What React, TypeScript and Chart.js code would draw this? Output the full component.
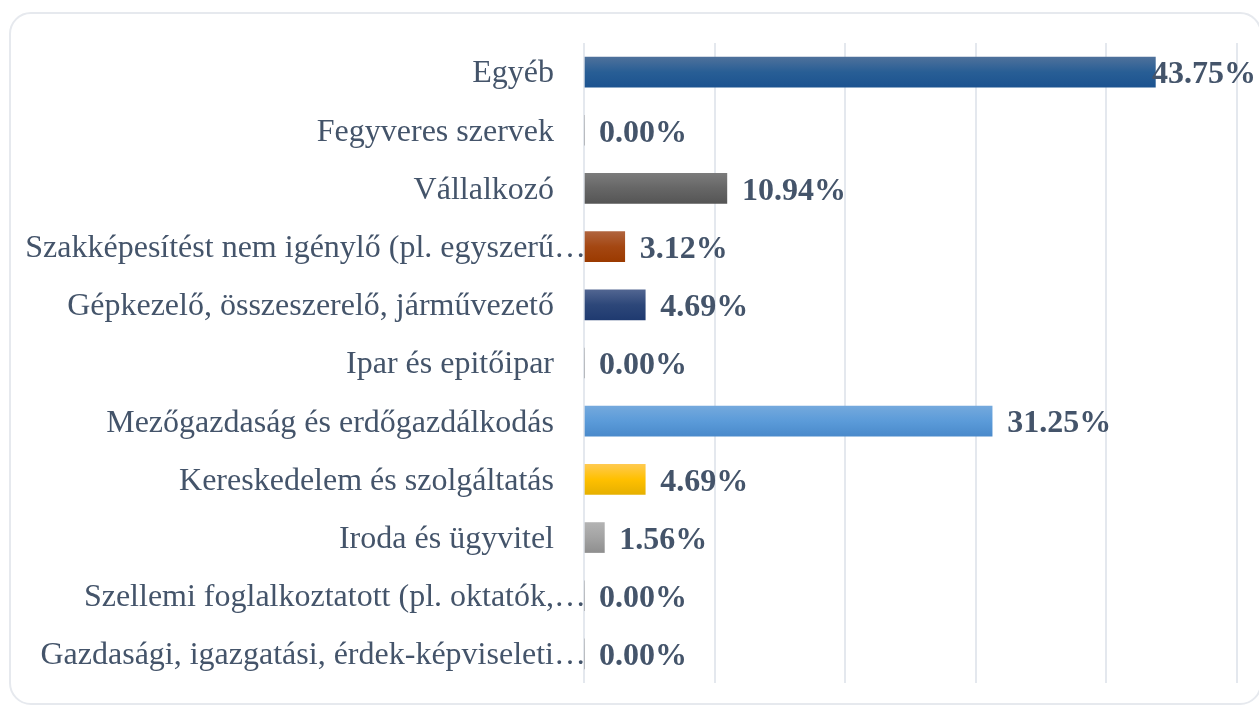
import React, { useEffect, useRef } from "react";
import { Chart, registerables } from "chart.js";

Chart.register(...registerables);

const categories: string[] = [
  "Egyéb",
  "Fegyveres szervek",
  "Vállalkozó",
  "Szakképesítést nem igénylő (pl. egyszerű fizikai munka)",
  "Gépkezelő, összeszerelő, járművezető",
  "Ipar és epitőipar",
  "Mezőgazdaság és erdőgazdálkodás",
  "Kereskedelem és szolgáltatás",
  "Iroda és ügyvitel",
  "Szellemi foglalkoztatott (pl. oktatók, orvosok, mérnökök)",
  "Gazdasági, igazgatási, érdek-képviseleti vezető",
];

const shares: number[] = [43.75, 0, 10.94, 3.12, 4.69, 0, 31.25, 4.69, 1.56, 0, 0];

const xMin = 0;
const xMax = 50;
const xStep = 10;

const topColors: string[] = ["#4e719b", "#7f7f7f", "#7b7b7b", "#b0643e", "#516591", "#7f7f7f", "#74a9dd", "#ffca4f", "#b3b3b3", "#7f7f7f", "#7f7f7f"];
const midColors: string[] = ["#285e95", "#666666", "#666666", "#a44712", "#2d4779", "#666666", "#5b9bd9", "#ffc000", "#a3a3a3", "#666666", "#666666"];
const bottomColors: string[] = ["#1c5390", "#555555", "#555555", "#9b3a00", "#1f3a70", "#555555", "#4a8acb", "#e6b000", "#8f8f8f", "#555555", "#555555"];

const SERIF = "'Liberation Serif', 'Times New Roman', serif";
const TEXT_COLOR = "#44546a";
const GRID_COLOR = "#e4e8ee";

function shorten(label: string, max = 40): string {
  if (label.length <= max) return label + "    ";
  let cut = label.slice(0, max);
  if (label[max] !== " ") {
    const sp = cut.lastIndexOf(" ");
    if (sp > 0) cut = cut.slice(0, sp);
  }
  return cut.trimEnd() + "\u2026";
}

const valueLabels = {
  id: "valueLabels",
  afterDatasetsDraw(chart: any) {
    const { ctx } = chart;
    const meta = chart.getDatasetMeta(0);
    ctx.save();
    ctx.font = `bold 32px ${SERIF}`;
    ctx.fillStyle = TEXT_COLOR;
    ctx.textBaseline = "middle";
    ctx.textAlign = "left";
    meta.data.forEach((bar: any, i: number) => {
      const text = shares[i].toFixed(2) + "%";
      const w = ctx.measureText(text).width;
      let x = bar.x + 15;
      const limit = chart.width - 3;
      if (x + w > limit) x = limit - w;
      ctx.fillText(text, x, bar.y + 3);
    });
    ctx.restore();
  },
};

export default function App() {
  const canvasRef = useRef<HTMLCanvasElement | null>(null);

  useEffect(() => {
    if (!canvasRef.current) return;
    const chart = new Chart(canvasRef.current, {
      type: "bar",
      data: {
        labels: categories,
        datasets: [
          {
            data: shares,
            barThickness: 30,
            backgroundColor: (c: any) => {
              const ch = c.chart;
              const i = c.dataIndex;
              const ys = ch.scales && ch.scales.y;
              if (!ys || !ch.chartArea || i === undefined) return midColors[i ?? 0];
              const y = ys.getPixelForValue(i);
              const g = ch.ctx.createLinearGradient(0, y - 15, 0, y + 15);
              g.addColorStop(0, topColors[i]);
              g.addColorStop(0.5, midColors[i]);
              g.addColorStop(1, bottomColors[i]);
              return g;
            },
          },
        ],
      },
      options: {
        indexAxis: "y",
        animation: false,
        responsive: false,
        maintainAspectRatio: false,
        layout: { padding: { left: 0, right: 22, top: 43, bottom: 22 } },
        plugins: {
          legend: { display: false },
          tooltip: { enabled: false },
        },
        scales: {
          x: {
            min: xMin,
            max: xMax,
            ticks: { display: false, stepSize: xStep },
            grid: { color: GRID_COLOR, lineWidth: 2, drawTicks: false },
            border: { display: false },
            afterFit: (s: any) => {
              s.height = 0;
            },
          },
          y: {
            grid: { display: false, drawTicks: false },
            border: { display: false },
            ticks: {
              padding: -2,
              labelOffset: 2,
              color: TEXT_COLOR,
              font: { family: SERIF, size: 32 },
              callback: (_v: any, idx: number) => shorten(categories[idx]),
            },
            afterFit: (s: any) => {
              s.width = 584;
            },
          },
        },
      },
      plugins: [valueLabels],
    });
    return () => chart.destroy();
  }, []);

  return (
    <>
      <div
        style={{
          position: "fixed",
          left: 9,
          top: 12,
          width: 1253,
          height: 693,
          boxSizing: "border-box",
          border: "2px solid #e6e9ee",
          borderRadius: 22,
          background: "#ffffff",
        }}
      />
      <canvas
        ref={canvasRef}
        width={1259}
        height={705}
        style={{ position: "fixed", left: 0, top: 0, width: 1259, height: 705 }}
      />
    </>
  );
}
